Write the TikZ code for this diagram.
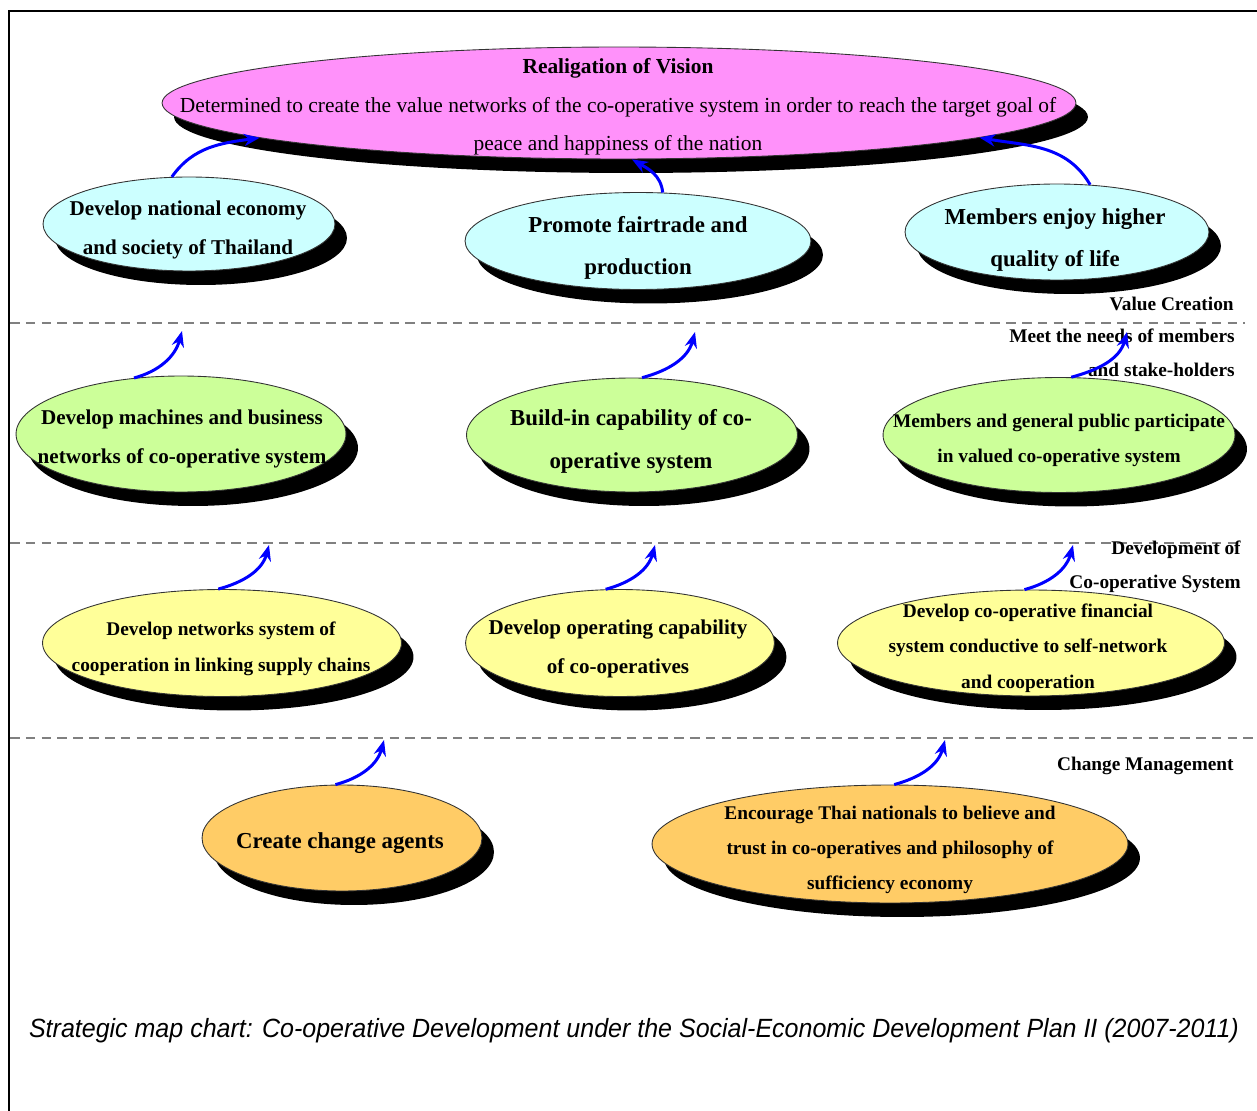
\documentclass[tikz,border=0pt]{standalone}
\usepackage{fontspec}
\setmainfont{Liberation Serif}
\newfontfamily\captionfont{Liberation Sans}
\usepackage{graphicx}
\usetikzlibrary{shapes.geometric,shadows,arrows.meta,calc}

\definecolor{visionfill}{RGB}{255,145,250}
\definecolor{resultfill}{RGB}{204,255,255}
\definecolor{valuefill}{RGB}{204,255,153}
\definecolor{systemfill}{RGB}{255,255,153}
\definecolor{changefill}{RGB}{255,204,102}

\begin{document}
\begin{tikzpicture}[x=0.02cm,y=0.02cm]

\tikzset{goalnode/.style={ellipse,draw=black!80,line width=0.5pt,inner sep=0,
  drop shadow={fill=black,opacity=1,shadow xshift=0.24cm,shadow yshift=-0.28cm}},
goaltext/.style 2 args={align=center,inner sep=0,font=\fontsize{#1}{#2}\selectfont\bfseries},
flowarrow/.style={draw=blue,line width=1.7pt,-{Stealth[length=9pt,width=7pt]}},
layerline/.style={draw=black!50,line width=0.9pt,dash pattern=on 5.5pt off 3.5pt},
layerlabel/.style={align=right,anchor=east,inner sep=0,font=\fontsize{11}{19.5}\selectfont\bfseries}}

\useasboundingbox (0,0) rectangle (1257,-1111);

% Frame
\draw[line width=1.5pt] (9,-40) -- (9,-11) -- (1257,-11);
\draw[line width=0.6pt] (9,-40) -- (9,-918);
\draw[line width=1.5pt] (9,-918) -- (9,-1111);

% Layer borders
\draw[layerline] (10,-323) -- (1245,-323);
\draw[layerline] (10,-543) -- (1240,-543);
\draw[layerline] (10,-738) -- (1257,-738);

% Vision
\node[goalnode,fill=visionfill,minimum width=18.28cm,minimum height=2.24cm] (vision) at (619,-103) {};
\node[align=center,inner sep=0,font=\fontsize{12.2}{22}\selectfont] (visiont) at (618,-107)
  {{\bfseries Realigation of Vision}\\
   Determined to create the value networks of the co-operative system in order to reach the target goal of\\
   peace and happiness of the nation};

% Results
\node[goalnode,fill=resultfill,minimum width=5.84cm,minimum height=1.88cm] (c1) at (189,-224) {};
\node[goalnode,fill=resultfill,minimum width=6.92cm,minimum height=1.94cm] (c2) at (638,-241) {};
\node[goalnode,fill=resultfill,minimum width=6.08cm,minimum height=1.92cm] (c3) at (1057,-232) {};
\node[goaltext={12}{22}] (c1t) at (188,-230) {Develop national economy\\and society of Thailand};
\node[goaltext={13}{24}] (c2t) at (638,-248) {Promote fairtrade and\\production};
\node[goaltext={13}{24.4}] (c3t) at (1055,-240) {Members enjoy higher\\quality of life};

% Value creation
\node[goalnode,fill=valuefill,minimum width=6.60cm,minimum height=2.32cm] (g1) at (181,-434) {};
\node[goalnode,fill=valuefill,minimum width=6.62cm,minimum height=2.28cm] (g2) at (632,-435) {};
\node[goalnode,fill=valuefill,minimum width=7.04cm,minimum height=2.30cm] (g3) at (1059,-435) {};
\node[goaltext={12}{22}] (g1t) at (182,-439) {Develop machines and business\\networks of co-operative system};
\node[goaltext={13}{24.4}] (g2t) at (631,-441) {Build-in capability of co-\\operative system};
\node[goaltext={11}{19.8}] (g3t) at (1059,-440) {Members and general public participate\\in valued co-operative system};

% Development of the co-operative system
\node[goalnode,fill=systemfill,minimum width=7.18cm,minimum height=2.14cm] (y1) at (222,-643) {};
\node[goalnode,fill=systemfill,minimum width=6.18cm,minimum height=2.14cm] (y2) at (620,-643) {};
\node[goalnode,fill=systemfill,minimum width=7.74cm,minimum height=2.12cm] (y3) at (1031,-643) {};
\node[goaltext={11}{20.4}] (y1t) at (221,-649) {Develop networks system of\\cooperation in linking supply chains};
\node[goaltext={12}{22}] (y2t) at (618,-649) {Develop operating capability\\of co-operatives};
\node[goaltext={11}{20.1}] (y3t) at (1028,-648) {Develop co-operative financial\\system conductive to self-network\\and cooperation};

% Change management
\node[goalnode,fill=changefill,minimum width=5.60cm,minimum height=2.12cm] (o1) at (342,-838) {};
\node[goalnode,fill=changefill,minimum width=9.52cm,minimum height=2.36cm] (o2) at (890,-844) {};
\node[goaltext={13}{24}] (o1t) at (340,-843) {Create change agents};
\node[goaltext={11}{20.1}] (o2t) at (890,-850) {Encourage Thai nationals to believe and\\trust in co-operatives and philosophy of\\sufficiency economy};

% Layer labels
\node[layerlabel] (vclab) at (1234,-304) {Value Creation};
\node[layerlabel] (mnlab) at (1235,-353) {Meet the needs of members\\and stake-holders};
\node[layerlabel] (dclab) at (1241,-567) {Development of\\Co-operative System};
\node[layerlabel] (cmlab) at (1234,-766) {Change Management};

% Links to the vision
\draw[flowarrow] (c1.110) to[out=55,in=188] ($(vision.185)!0.55!(vision.186)$);
\draw[flowarrow] (c2.63) to[out=95,in=-30] (vision.283);
\draw[flowarrow] (c3.55) to[out=120,in=-10] ($(vision.354)!0.5!(vision.355)$);

% Links up to the next layer
\coordinate (g1-up) at (182,-331);
\coordinate (g2-up) at (695,-332);
\coordinate (g3-up) at (1127,-332);
\coordinate (y1-up) at (269,-545);
\coordinate (y2-up) at (655,-545);
\coordinate (y3-up) at (1073,-545);
\coordinate (o1-up) at (384,-740);
\coordinate (o2-up) at (945,-740);
\foreach \n/\a in {g1/130, g2/80, g3/78, y1/94, y2/105, y3/97, o1/97, o2/86}
  \draw[flowarrow] (\n.\a) to[out=15,in=-105] (\n-up);

% Caption
\node[inner sep=0,font=\captionfont\itshape] (caption) at (634,-1031)
  {\scalebox{0.949}[1]{\fontsize{15}{18}\selectfont Strategic map chart: Co-operative Development under the Social-Economic Development Plan II (2007-2011)}};
\end{tikzpicture}
\end{document}
